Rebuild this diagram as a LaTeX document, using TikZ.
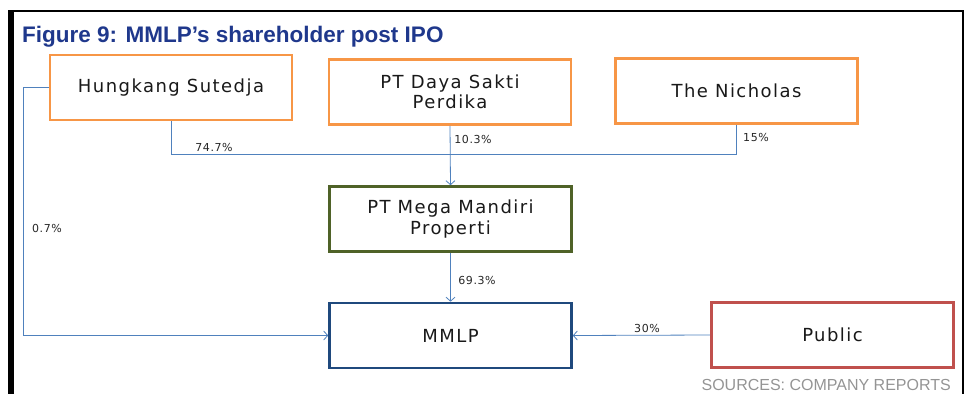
\documentclass[tikz,border=0pt]{standalone}
\usepackage{fontspec}
\usepackage{tikz}
\usetikzlibrary{arrows.meta}
\usepackage{xcolor}

\setmainfont{Liberation Sans}
\newfontfamily\boxfont[LetterSpace=8]{DejaVu Sans}
\newfontfamily\pctfont[LetterSpace=5]{DejaVu Sans}

\definecolor{titleblue}{RGB}{31,56,140}
\definecolor{linkblue}{RGB}{79,129,189}
\definecolor{orangeline}{RGB}{247,150,70}
\definecolor{greenline}{RGB}{79,98,40}
\definecolor{blueline}{RGB}{31,73,125}
\definecolor{redline}{RGB}{192,80,77}

\tikzset{
  holder/.style={draw, line width=2.6pt, minimum width=242pt, minimum height=65pt,
    align=center, text=black!90, font=\boxfont\fontsize{18}{20.5}\selectfont},
  link/.style={draw=linkblue, line width=0.8pt},
  pct/.style={inner sep=0pt, font=\pctfont\fontsize{11}{13}\selectfont, text=black!85}
}

\begin{document}
\begin{tikzpicture}[x=1pt, y=-1pt]
    \useasboundingbox (0,0) rectangle (969,394);
    % Moldura
    \fill[black] (8,10) rectangle (14,394);
    \draw[line width=2.4pt] (11,11.2) -- (963,11.2) -- (963,394);
    % Titulo
    \node[anchor=base west, inner sep=0pt, text=titleblue,
      font=\bfseries\fontsize{22.5}{26}\selectfont] (title) at (22,42) {Figure 9: MMLP’s shareholder post IPO};
    % Acionistas
    \node[holder, draw=orangeline] (hung) at (171,87.5) {Hungkang Sutedja};
    \node[holder, draw=orangeline] (daya) at (450,92) {PT Daya Sakti\\Perdika};
    \node[holder, draw=orangeline] (nich) at (736.5,91) {The Nicholas};
    \node[holder, draw=greenline] (mega) at (450.5,219) {PT Mega Mandiri\\Properti};
    \node[holder, draw=blueline] (mmlp) at (450.5,335.5) {MMLP};
    \node[holder, draw=redline] (public) at (832.5,335) {Public};
    % Ligacoes
    \coordinate (join) at (450,154.5);
    \coordinate (bend) at (23,0);
    \draw[link] (hung.south) |- (join);
    \draw[link] (nich.south) |- (join);
    \draw[link, -{Straight Barb[length=4pt, width=9pt]}] (daya.south) -- (mega.north);
    \draw[link, -{Straight Barb[length=4pt, width=9pt]}] (mega.south) -- (mmlp.north);
    \draw[link, -{Straight Barb[length=4pt, width=9pt]}] (hung.west) -- (hung.west -| bend) |- (mmlp.west);
    \draw[link, -{Straight Barb[length=4pt, width=9pt]}] (public.west) -- (mmlp.east);
    % Percentagens
    \node[pct] (p747) at (214,147) {74.7\%};
    \node[pct] (p103) at (473,139) {10.3\%};
    \node[pct] (p15) at (756,137) {15\%};
    \node[pct] (p07) at (47,228) {0.7\%};
    \node[pct] (p693) at (477,280) {69.3\%};
    \node[pct] (p30) at (647,328) {30\%};
    % Fonte
    \node[anchor=base east, inner sep=0pt, text=black!42,
      font=\fontsize{16}{19}\selectfont] (src) at (951,390) {SOURCES: COMPANY REPORTS};
\end{tikzpicture}
\end{document}
